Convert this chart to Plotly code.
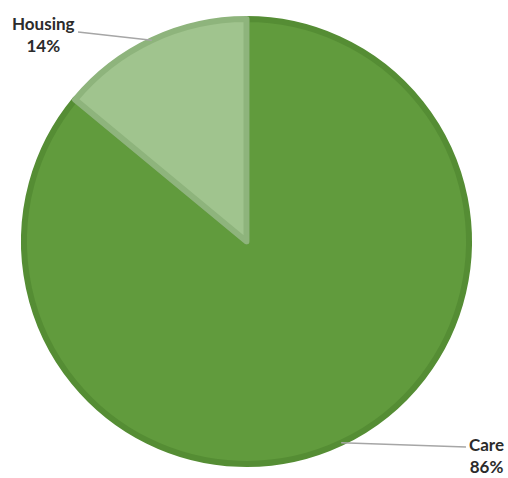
import math
import plotly.graph_objects as go

labels = ["Care", "Housing"]
values = [86, 14]
fill_colors = ["#619b3d", "#a0c48e"]
border_colors = ["#558d34", "#8eb47c"]

W, H = 508, 478
ml, mr, mt, mb = 24, 39, 15, 10
pw, ph = W - ml - mr, H - mt - mb
R = min(pw, ph) / 2
cx, cy = ml + pw / 2, mt + ph / 2


def to_paper(px, py):
    return (px - ml) / pw, 1 - (py - mt) / ph


fig = go.Figure(go.Pie(
    labels=labels, values=values, sort=False, direction="clockwise", rotation=0,
    marker=dict(colors=fill_colors, line=dict(color=border_colors, width=6)),
    textinfo="none", hoverinfo="label+percent", showlegend=False,
))

# leader lines starting at slice mid-angle on the rim
total = sum(values)
cum = 0
mids = []
for v in values:
    mids.append((cum + v / 2) / total * 360)
    cum += v

label_pos = {"Care": (466, 447, 487, 455), "Housing": (78, 32, 43, 34)}
for lab, ang, val in zip(labels, mids, values):
    a = math.radians(ang)
    ex, ey = cx + R * math.sin(a), cy - R * math.cos(a)
    lx, ly, tx, ty = label_pos[lab]
    x0, y0 = to_paper(ex, ey)
    x1, y1 = to_paper(lx, ly)
    fig.add_shape(type="line", xref="paper", yref="paper", x0=x0, y0=y0, x1=x1, y1=y1,
                  line=dict(color="#a6a6a6", width=1.5))
    px_, py_ = to_paper(tx, ty)
    fig.add_annotation(xref="paper", yref="paper", x=px_, y=py_, showarrow=False,
                       text=f"<b>{lab}<br>{round(val / total * 100)}%</b>",
                       font=dict(family="Lato, Open Sans, sans-serif", size=17, color="#2b2b2b"),
                       align="center", xanchor="center", yanchor="middle")

fig.update_layout(width=W, height=H, margin=dict(l=ml, r=mr, t=mt, b=mb),
                  paper_bgcolor="white", plot_bgcolor="white")
fig.write_html("out.html")
